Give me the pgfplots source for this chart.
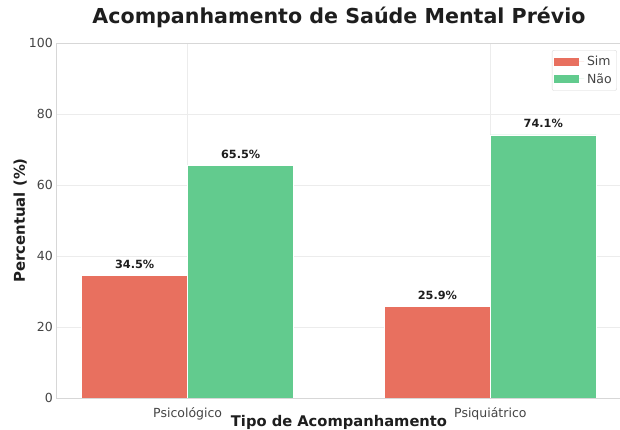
\documentclass[border=0pt]{standalone}
\usepackage{pgfplots}
\pgfplotsset{compat=1.18}
\usepackage{fontspec}
\setmainfont{DejaVu Sans}
\definecolor{simc}{RGB}{232,112,95}
\definecolor{naoc}{RGB}{98,203,142}
\definecolor{gridc}{RGB}{236,236,236}
\definecolor{spinec}{RGB}{215,215,215}
\definecolor{tickc}{RGB}{68,68,68}
\definecolor{titc}{RGB}{30,30,30}
\begin{document}
\begin{tikzpicture}
\begin{axis}[
  scale only axis, width=566pt, height=355pt,
  xmin=-0.435, xmax=1.435, ymin=0, ymax=100,
  ybar, bar width=0.35,
  xtick={0,1}, xticklabels={Psicológico, Psiquiátrico},
  ytick={0,20,40,60,80,100},
  /pgf/number format/assume math mode=true,
  grid=major, major grid style={gridc, line width=0.8pt},
  axis line style={spinec, line width=0.8pt},
  tick style={draw=none},
  tick label style={font=\fontsize{12.5}{14}\selectfont, text=tickc},
  yticklabel style={inner sep=0pt, xshift=-3pt},
  xticklabel style={inner sep=0pt, yshift=-5pt},
  title={Acompanhamento de Saúde Mental Prévio},
  title style={at={(axis description cs:0.5,1.0394)}, anchor=base, font=\fontsize{20.6}{24}\selectfont\bfseries, text=titc},
  xlabel={Tipo de Acompanhamento},
  xlabel style={at={(axis description cs:0.5,-0.0790)}, anchor=base, font=\fontsize{14.7}{17}\selectfont\bfseries, text=titc},
  ylabel={Percentual (\%)},
  ylabel style={at={(axis description cs:-0.0548,0.5)}, anchor=base, font=\fontsize{14.9}{17}\selectfont\bfseries, text=titc},
  nodes near coords={\pgfmathprintnumber[fixed,precision=1,fixed zerofill]{\pgfplotspointmeta}\%},
  every node near coord/.append style={font=\fontsize{11.3}{13}\selectfont\bfseries, text=titc, anchor=base, yshift=7pt, inner sep=0pt},
  area legend,
  legend image code/.code={\fill[#1, draw=none, sharp corners] (0pt,-4pt) rectangle (25pt,4pt); \path[draw=none] (0pt,0pt) -- (30pt,0pt);},
  legend style={at={(axis description cs:0.991,0.980)}, anchor=north east, draw=spinec, rounded corners=2pt, fill=white, font=\fontsize{12.5}{14}\selectfont, text=tickc, inner xsep=2pt, inner ysep=4pt, row sep=2pt, cells={anchor=west}, nodes={inner xsep=3pt}},
  legend cell align=left,
]
\addplot[fill=simc, draw=white, line width=0.6pt, bar shift=-0.175] coordinates {(0,34.5) (1,25.9)};
\addlegendentry{Sim}
\addplot[fill=naoc, draw=white, line width=0.6pt, bar shift=0.175] coordinates {(0,65.5) (1,74.1)};
\addlegendentry{Não}
\coordinate (ll) at (rel axis cs:0,0);
\coordinate (ur) at (rel axis cs:1,1);
\end{axis}
\pgfresetboundingbox
\path[use as bounding box] ([xshift=-56pt,yshift=-32pt]ll) rectangle ([xshift=-2pt,yshift=43pt]ur);
\end{tikzpicture}
\end{document}
